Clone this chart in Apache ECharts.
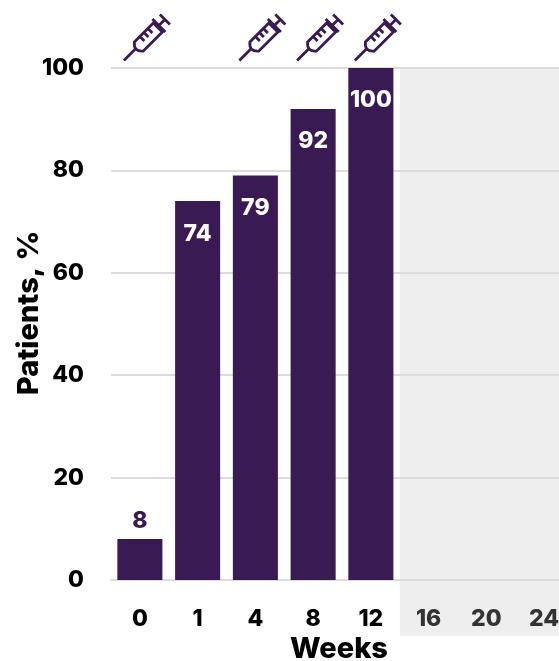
<!DOCTYPE html>
<html><head><meta charset="utf-8">
<style>html,body{margin:0;padding:0;background:#fff;overflow:hidden}#c{width:559px;height:661px}</style>
<script src="https://cdn.jsdelivr.net/npm/echarts@6/dist/echarts.min.js"></script>
</head><body><div id="c"></div>
<script>
const weeks = ['0','1','4','8','12','16','20','24'];
const patients = [8,74,79,92,100,null,null,null];
const doseWeeks = ['0','4','8','12'];
const yMax = 100;
const fadedWeeks = ['16','20','24'];
const PURPLE='#391a52', FONT='Inter';
const SYRINGE='path://M0.5 46.5L13 34M11 28L30 9L39 18L20 37Q10 38 11 28ZM29 5L42 18M35 12L41.5 5.5M36.5 0.5L46.5 10.5M17 23L21 27M21 19L25 23M25 15L29 19';
const chart=echarts.init(document.getElementById('c'),null,{renderer:'canvas'});
chart.setOption({
  animation:false,
  grid:{left:111,top:68,width:462,height:512,containLabel:false,outerBoundsMode:'none'},
  xAxis:{type:'category',data:weeks,
    name:'Weeks',nameLocation:'middle',nameGap:55,nameMoveOverlap:false,
    nameTextStyle:{fontFamily:FONT,fontWeight:800,fontSize:29,color:'#000',padding:[0,6,0,0]},
    axisLine:{lineStyle:{color:'#dcdcdc',width:2}},axisTick:{show:false},
    axisLabel:{margin:28,fontFamily:FONT,fontWeight:800,fontSize:23,interval:0,
      color:(v)=>fadedWeeks.includes(v)?'#333':'#000'}},
  yAxis:{type:'value',min:0,max:yMax,interval:20,
    name:'Patients, %',nameLocation:'middle',nameGap:67,nameMoveOverlap:false,
    nameTextStyle:{fontFamily:FONT,fontWeight:800,fontSize:29,color:'#000',padding:[0,0,0,22]},
    axisLine:{show:false},axisTick:{show:false},
    splitLine:{lineStyle:{color:'#dcdcdc',width:2}},
    axisLabel:{margin:27,fontFamily:FONT,fontWeight:800,fontSize:23,color:'#000'}},
  series:[
    {type:'bar',barWidth:'78%',z:3,
     data:patients.map(v=>v==null?null:({value:v,
       label:v<20
        ?{show:true,position:'top',distance:6,color:PURPLE,fontFamily:FONT,fontWeight:800,fontSize:23}
        :{show:true,position:'insideTop',distance:21,color:'#fff',fontFamily:FONT,fontWeight:800,fontSize:23}})),
     itemStyle:{color:PURPLE}},
    {type:'scatter',z:4,silent:true,
     data:doseWeeks.map(w=>[w,yMax]),
     symbol:SYRINGE,symbolSize:46,symbolOffset:[7,-30.5],symbolKeepAspect:true,
     clip:false,
     itemStyle:{color:'none',borderColor:PURPLE,borderWidth:2.8,opacity:1}}
  ]
});
const bandLeft=chart.convertToPixel({xAxisIndex:0},'16')-57.75/2;
const bandTop=chart.convertToPixel({yAxisIndex:0},yMax);
chart.setOption({graphic:[{type:'rect',z:-1,silent:true,
  shape:{x:bandLeft,y:bandTop,width:559-bandLeft,height:636-bandTop},
  style:{fill:'#eeeeee'}}]});
</script></body></html>
